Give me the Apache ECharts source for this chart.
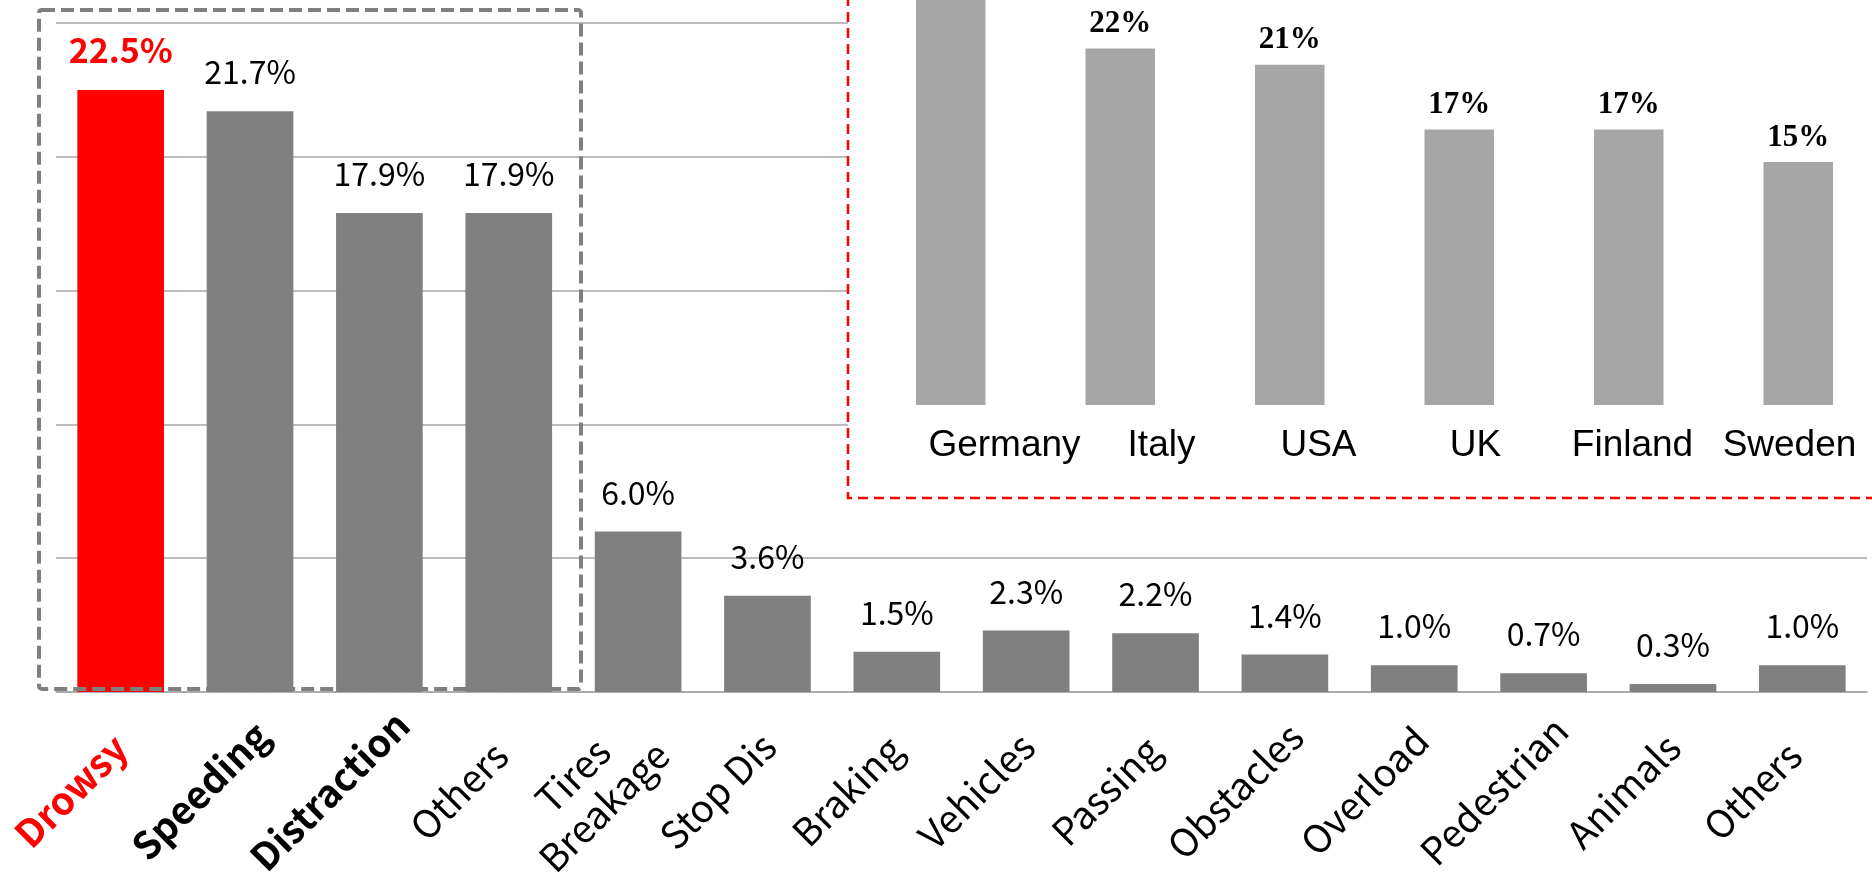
<!DOCTYPE html>
<html>
<head>
<meta charset="utf-8">
<script src="https://cdn.jsdelivr.net/npm/echarts@6/dist/echarts.min.js"></script>
<style>
html, body { margin: 0; padding: 0; background: #fff }
#chart { width: 1872px; height: 882px }
</style>
</head>
<body>
<div id="chart"></div>
<script>
// main chart: share of accident causes (%)
const causes = ['Drowsy', 'Speeding', 'Distraction', 'Others', 'Tires\nBreakage', 'Stop Dis', 'Braking',
  'Vehicles', 'Passing', 'Obstacles', 'Overload', 'Pedestrian', 'Animals', 'Others']
const causeShare = [22.5, 21.7, 17.9, 17.9, 6.0, 3.6, 1.5, 2.3, 2.2, 1.4, 1.0, 0.7, 0.3, 1.0]

// inset: drowsy driving share by country (%), Germany's label is cut off at the top
const countries = ['Germany', 'Italy', 'USA', 'UK', 'Finland', 'Sweden']
const countryShare = [26, 22, 21, 17, 17, 15]

const RED = '#ff0000'
const GREY = '#808080'
const LIGHT = '#a6a6a6'
const FONT = 'Noto Sans CJK KR'

const chart = echarts.init(document.getElementById('chart'))

function causeLabel(v, i) {
  if (i === 0) return `{red|${v}}`
  if (i < 3) return `{b|${v}}`
  return v
}

chart.setOption({
  animation: false,
  grid: [
    { left: 56, right: 5, top: 23, bottom: 190, outerBoundsMode: 'none' },
    { left: 866, width: 1017, top: 0, height: 405, outerBoundsMode: 'none' },
    { left: 926, width: 942, top: 0, height: 405, outerBoundsMode: 'none' }
  ],
  xAxis: [
    {
      gridIndex: 0, type: 'category', data: causes,
      axisLine: { lineStyle: { color: LIGHT, width: 1.5 } },
      axisTick: { length: 10, lineStyle: { color: LIGHT, width: 1.5 } },
      axisLabel: {
        interval: 0, rotate: 45, margin: 49,
        align: 'center', verticalAlign: 'middle', padding: [0, 141, 0, 0],
        fontFamily: FONT, fontSize: 38, color: '#000', lineHeight: 44,
        formatter: causeLabel,
        rich: {
          red: { color: RED, fontWeight: 'bold', fontSize: 38, fontFamily: FONT },
          b: { color: '#000', fontWeight: 'bold', fontSize: 38, fontFamily: FONT }
        }
      }
    },
    {
      gridIndex: 1, type: 'category', data: countries, z: 10,
      axisLine: { show: false }, axisTick: { show: false }, axisLabel: { show: false }
    },
    {
      gridIndex: 2, type: 'category', data: countries, z: 10,
      axisLine: { show: false }, axisTick: { show: false },
      axisLabel: { interval: 0, margin: 22, fontFamily: 'Liberation Sans', fontSize: 37, color: '#000' }
    }
  ],
  yAxis: [
    {
      gridIndex: 0, type: 'value', min: 0, max: 25, interval: 5,
      axisLine: { show: false }, axisTick: { show: false }, axisLabel: { show: false },
      splitLine: { lineStyle: { color: LIGHT, width: 1.5 } }
    },
    { gridIndex: 1, type: 'value', min: 0, max: 25, show: false },
    { gridIndex: 2, type: 'value', min: 0, max: 1, show: false }
  ],
  graphic: [
    {
      type: 'rect', z: 5,
      shape: { x: 848, y: -10, width: 1100, height: 508 },
      style: { fill: '#fff', stroke: RED, lineWidth: 2.5, lineDash: [10, 6] }
    },
    {
      type: 'rect', z: 20,
      shape: { x: 39, y: 10, width: 542, height: 679, r: 3 },
      style: { fill: 'transparent', stroke: '#7f7f7f', lineWidth: 4, lineDash: [13, 6] }
    }
  ],
  series: [
    {
      type: 'bar', xAxisIndex: 0, yAxisIndex: 0, data: causeShare,
      barCategoryGap: '33%',
      itemStyle: { color: p => p.dataIndex === 0 ? RED : GREY },
      label: {
        show: true, position: 'top', distance: 23,
        fontFamily: FONT, fontSize: 32, color: '#000',
        formatter: p => p.dataIndex === 0 ? `{hot|${p.value.toFixed(1)}%}` : p.value.toFixed(1) + '%',
        rich: { hot: { color: RED, fontWeight: 'bold', fontSize: 34, fontFamily: FONT } }
      }
    },
    {
      type: 'bar', xAxisIndex: 1, yAxisIndex: 1, data: countryShare, z: 10,
      barWidth: '41%',
      itemStyle: { color: LIGHT },
      label: {
        show: true, position: 'top', distance: 9,
        fontFamily: 'Liberation Serif', fontWeight: 'bold', fontSize: 31, color: '#000',
        formatter: '{c}%'
      }
    }
  ]
})
</script>
</body>
</html>
